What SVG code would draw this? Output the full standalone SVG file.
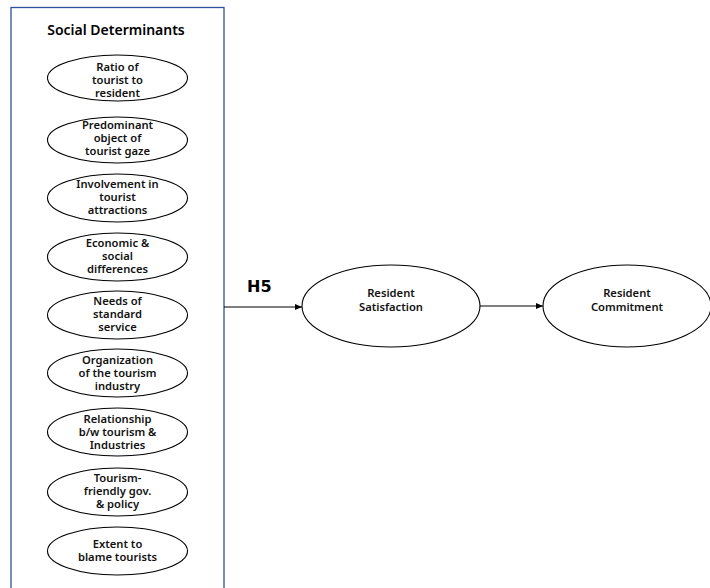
<svg xmlns="http://www.w3.org/2000/svg" width="710" height="588" viewBox="0 0 710 588">
<defs>
<style>
.box{fill:#fff;stroke:#2f4f9f;stroke-width:1.3}
.el{fill:#fff;stroke:#000;stroke-width:1.1}
.t{font-family:"Noto Sans","DejaVu Sans",sans-serif;font-size:11.2px;font-weight:600;fill:#111;text-anchor:middle}
.title{font-family:"Noto Sans","DejaVu Sans",sans-serif;font-size:14px;font-weight:600;fill:#000;text-anchor:middle}
.h{font-family:"DejaVu Sans","Noto Sans",sans-serif;font-size:16px;font-weight:bold;fill:#000}
.c{stroke:#000;stroke-width:1;fill:none;marker-end:url(#ah)}
</style>
<marker id="ah" markerWidth="8" markerHeight="8" refX="7" refY="4" orient="auto" markerUnits="userSpaceOnUse">
<path d="M0,1 L7,4 L0,7 Z" fill="#000"/>
</marker>
</defs>
<rect width="710" height="588" fill="#fff"/>
<g id="social-determinants">
<rect class="box" x="11" y="7.5" width="213" height="590"/>
<text class="title" x="116" y="35">Social Determinants</text>
</g>
<g id="n1"><ellipse class="el" cx="117.5" cy="78" rx="70" ry="23"/>
<text class="t" x="117.5" y="71">Ratio of</text><text class="t" x="117.5" y="84">tourist to</text><text class="t" x="117.5" y="97">resident</text></g>
<g id="n2"><ellipse class="el" cx="117.5" cy="140" rx="70" ry="23"/>
<text class="t" x="117.5" y="129">Predominant</text><text class="t" x="117.5" y="142">object of</text><text class="t" x="117.5" y="155">tourist gaze</text></g>
<g id="n3"><ellipse class="el" cx="117.5" cy="198" rx="70" ry="24"/>
<text class="t" x="117.5" y="188">Involvement in</text><text class="t" x="117.5" y="201">tourist</text><text class="t" x="117.5" y="214">attractions</text></g>
<g id="n4"><ellipse class="el" cx="117.5" cy="257" rx="70" ry="24"/>
<text class="t" x="117.5" y="247">Economic &amp;</text><text class="t" x="117.5" y="260">social</text><text class="t" x="117.5" y="273">differences</text></g>
<g id="n5"><ellipse class="el" cx="117.5" cy="315" rx="70" ry="24"/>
<text class="t" x="117.5" y="305">Needs of</text><text class="t" x="117.5" y="318">standard</text><text class="t" x="117.5" y="331">service</text></g>
<g id="n6"><ellipse class="el" cx="117.5" cy="373" rx="70" ry="24"/>
<text class="t" x="117.5" y="364">Organization</text><text class="t" x="117.5" y="377">of the tourism</text><text class="t" x="117.5" y="390">industry</text></g>
<g id="n7"><ellipse class="el" cx="117.5" cy="432" rx="70" ry="24"/>
<text class="t" x="117.5" y="423">Relationship</text><text class="t" x="117.5" y="436">b/w tourism &amp;</text><text class="t" x="117.5" y="449">Industries</text></g>
<g id="n8"><ellipse class="el" cx="117.5" cy="492" rx="70" ry="24"/>
<text class="t" x="117.5" y="482">Tourism-</text><text class="t" x="117.5" y="495">friendly gov.</text><text class="t" x="117.5" y="508">&amp; policy</text></g>
<g id="n9"><ellipse class="el" cx="117.5" cy="551" rx="70" ry="24"/>
<text class="t" x="117.5" y="548">Extent to</text><text class="t" x="117.5" y="561">blame tourists</text></g>
<g id="satisfaction"><ellipse class="el" cx="391" cy="306" rx="89" ry="41"/>
<text class="t" x="391" y="297">Resident</text><text class="t" x="391" y="311">Satisfaction</text></g>
<g id="commitment"><ellipse class="el" cx="627" cy="306" rx="84" ry="41"/>
<text class="t" x="627" y="297">Resident</text><text class="t" x="627" y="311">Commitment</text></g>
<g id="connectors">
<line class="c" x1="224" y1="307" x2="302" y2="307"/>
<line class="c" x1="480" y1="306" x2="543" y2="306"/>
<text class="h" x="247" y="292">H5</text>
</g>
</svg>
